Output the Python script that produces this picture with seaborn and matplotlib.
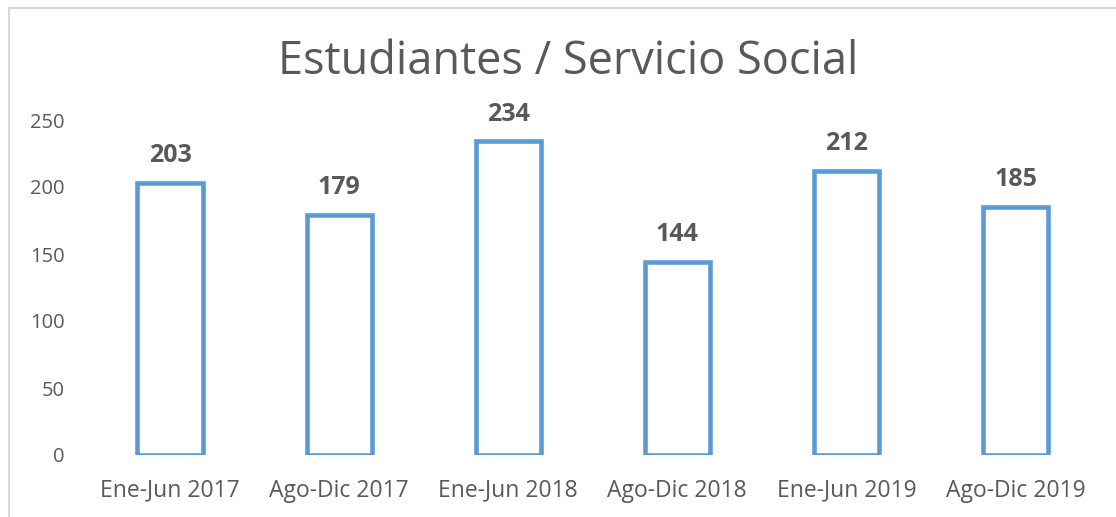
import matplotlib
matplotlib.use("Agg")
import matplotlib.pyplot as plt
import seaborn as sns
import pandas as pd
from matplotlib.patches import Rectangle

# datos
periodos = ["Ene-Jun 2017", "Ago-Dic 2017", "Ene-Jun 2018",
            "Ago-Dic 2018", "Ene-Jun 2019", "Ago-Dic 2019"]
estudiantes = [203, 179, 234, 144, 212, 185]

df = pd.DataFrame({"periodo": periodos, "estudiantes": estudiantes})

sns.set_theme(style="white")
plt.rcParams["font.family"] = ["Open Sans", "DejaVu Sans"]

gris = "#595959"
azul = "#5B9BD5"

fig = plt.figure(figsize=(11.16, 5.17), dpi=100)
ax = fig.add_axes([85.5 / 1116, 1 - 455 / 517, (1100 - 85.5) / 1116, 335 / 517])

sns.barplot(data=df, x="periodo", y="estudiantes", ax=ax, width=0.385,
            facecolor="white", edgecolor=azul, linewidth=3.3)

for i, v in enumerate(estudiantes):
    ax.text(i, v + 11, str(v), ha="center", va="bottom", fontsize=18,
            fontweight="bold", color=gris)

ax.set_ylim(0, 250)
ax.set_yticks(range(0, 251, 50))
ax.set_xlim(-0.5, 5.5)
ax.set_xlabel("")
ax.set_ylabel("")
ax.tick_params(axis="both", colors=gris, length=0)
ax.tick_params(axis="y", pad=15, labelsize=14.5)
ax.tick_params(axis="x", pad=17, labelsize=16.5)
for s in ax.spines.values():
    s.set_visible(False)

fig.text(568 / 1116, 1 - 62 / 517, "Estudiantes / Servicio Social",
         ha="center", va="center", fontsize=32.5, color=gris)

# marco del area del grafico
fig.patches.append(Rectangle((9 / 1116, -0.1), 1.2, 1 - 8 / 517 + 0.1,
                             transform=fig.transFigure, fill=False,
                             edgecolor="#D9D9D9", linewidth=1.5))

fig.savefig("out.png", dpi=100)
